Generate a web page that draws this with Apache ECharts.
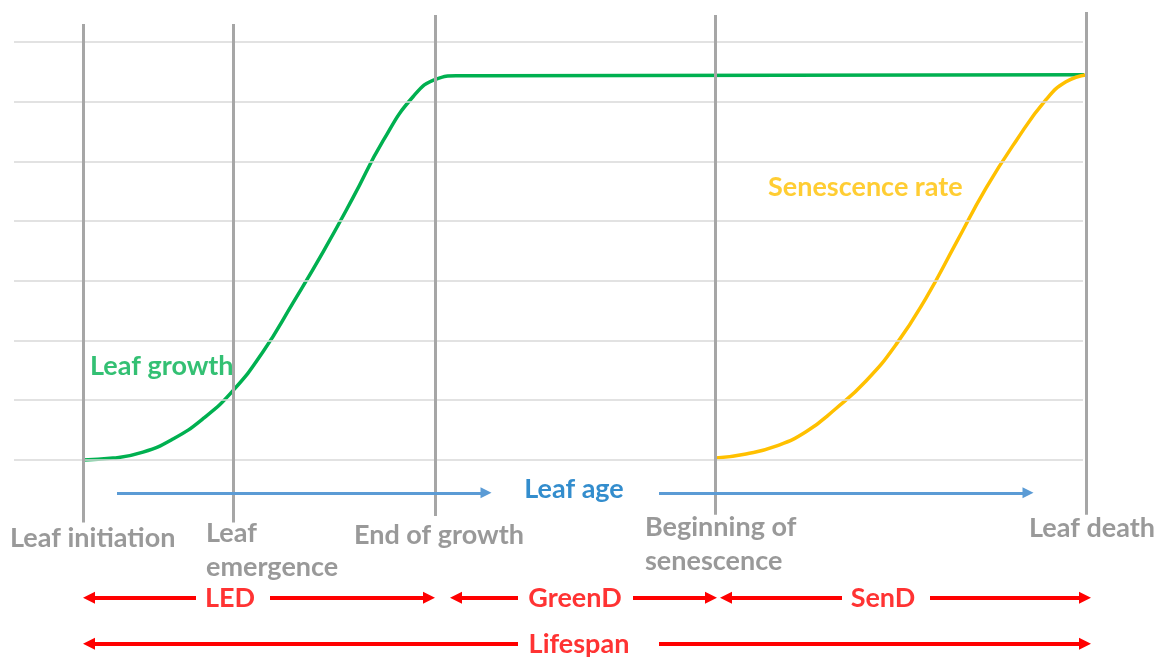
<!DOCTYPE html>
<html>
<head>
<meta charset="utf-8">
<script src="https://cdn.jsdelivr.net/npm/echarts@6/dist/echarts.min.js"></script>
<style>
  html, body { margin: 0; padding: 0; background: #fff; }
  #main { width: 1161px; height: 657px; }
</style>
</head>
<body>
<div id="main"></div>
<script>
// leaf growth curve (relative size vs leaf age)
var growthX = [8.3, 11.3, 14.3, 17.3, 20.3, 23.3, 26.3, 29.3, 32.3, 35.3, 38.3, 41.3, 43.7, 45.6, 48.5, 108.4];
var growthY = [0.00, 0.03, 0.13, 0.35, 0.69, 1.16, 1.81, 2.63, 3.48, 4.39, 5.34, 6.08, 6.38, 6.43, 6.43, 6.45];
// senescence curve
var senX = [71.6, 74.6, 77.6, 80.6, 83.6, 86.6, 89.6, 92.6, 95.6, 98.6, 101.6, 104.6, 106.6, 108.7];
var senY = [0.03, 0.10, 0.23, 0.47, 0.86, 1.32, 1.93, 2.71, 3.63, 4.55, 5.34, 6.03, 6.33, 6.45];
// stages
var stageX = [8.33, 23.33, 43.57, 71.5, 108.67];
var stageNames = ['Leaf initiation', 'Leaf\nemergence', 'End of growth', 'Beginning of\nsenescence', 'Leaf death'];
var gridLevels = [0, 1, 2, 3, 4, 5, 6, 7];
var phaseNames = ['LED', 'GreenD', 'SenD', 'Lifespan'];

var GRAY = '#7f7f7f', RED = '#ff0000';
var FONT = 'Lato';

function pairs(xs, ys) {
    return xs.map(function (x, i) { return [x, ys[i]]; });
}

// layout (data units, x = px/10)
var stageTop = [7.30, 7.30, 7.45, 7.45, 7.50];
var stageBottom = [-1.05, -1.05, -0.94, -0.92, -0.92];
var stageLabelPos = [[1.0, -1.31], [20.6, -1.52], [35.4, -1.26], [64.5, -1.41], [102.9, -1.14]];
// [x1, leftEnd, rightStart, x2, labelX, y]
var phaseRows = [
    [8.9, 19.6, 27.0, 42.9, 23.0, -2.31],
    [45.6, 51.8, 63.3, 71.1, 57.5, -2.31],
    [72.6, 84.2, 93.0, 108.5, 88.3, -2.31],
    [8.9, 51.8, 65.9, 108.5, 57.9, -3.08]
];

var gridLines = gridLevels.map(function (v) {
    return [{ coord: [1.4, v], symbol: 'none' }, { coord: [108.3, v], symbol: 'none' }];
});
var stageLines = stageX.map(function (x, i) {
    return [{ coord: [x, stageTop[i]], symbol: 'none' }, { coord: [x, stageBottom[i]], symbol: 'none' }];
});
var redLines = [];
phaseRows.forEach(function (r) {
    redLines.push([{ coord: [r[0], r[5]], symbol: 'triangle' }, { coord: [r[1], r[5]], symbol: 'none' }]);
    redLines.push([{ coord: [r[2], r[5]], symbol: 'none' }, { coord: [r[3], r[5]], symbol: 'triangle' }]);
});
var blueLines = [
    [{ coord: [11.7, -0.55], symbol: 'none' }, { coord: [48.6, -0.55], symbol: 'triangle' }],
    [{ coord: [65.9, -0.55], symbol: 'none' }, { coord: [102.8, -0.55], symbol: 'triangle' }]
];

function txt(name, x, y, color, align) {
    return {
        name: name, value: [x, y],
        label: { color: color, align: align || 'center' }
    };
}
var texts = [];
stageNames.forEach(function (n, i) {
    texts.push(txt(n, stageLabelPos[i][0], stageLabelPos[i][1], GRAY, 'left'));
});
phaseNames.forEach(function (n, i) {
    texts.push(txt(n, phaseRows[i][4], phaseRows[i][5], RED));
});
texts.push(txt('Leaf age', 57.4, -0.50, '#0070c0'));
texts.push(txt('Leaf growth', 9.0, 1.56, '#00b050', 'left'));
texts.push(txt('Senescence rate', 76.8, 4.57, '#ffc000', 'left'));

var myChart = echarts.init(document.getElementById('main'));
var option = {
    animation: false,
    grid: { left: 0, right: 0, top: 0, bottom: 0 },
    xAxis: { type: 'value', min: 0, max: 116.1, show: false },
    yAxis: { type: 'value', min: -3.3, max: 7.7, show: false },
    series: [
        {
            type: 'line', data: [], z: 1, silent: true,
            markLine: {
                silent: true, label: { show: false }, symbol: 'none',
                lineStyle: { color: '#d9d9d9', width: 1.5, type: 'solid' },
                emphasis: { disabled: true },
                data: gridLines
            }
        },
        {
            type: 'line', data: [], z: 2, silent: true,
            markLine: {
                silent: true, label: { show: false }, symbol: 'none',
                lineStyle: { color: '#a6a6a6', width: 3, type: 'solid' },
                emphasis: { disabled: true },
                data: stageLines
            }
        },
        {
            type: 'line', z: 3, smooth: 0.5, showSymbol: false, silent: true,
            lineStyle: { color: '#00b050', width: 3.5 },
            data: pairs(growthX, growthY)
        },
        {
            type: 'line', z: 3, smooth: 0.5, showSymbol: false, silent: true,
            lineStyle: { color: '#ffc000', width: 3.5 },
            data: pairs(senX, senY)
        },
        {
            type: 'line', data: [], z: 4, silent: true,
            markLine: {
                silent: true, label: { show: false }, symbolSize: [12, 12],
                lineStyle: { color: RED, width: 4, type: 'solid' },
                itemStyle: { color: RED },
                emphasis: { disabled: true },
                data: redLines
            }
        },
        {
            type: 'line', data: [], z: 4, silent: true,
            markLine: {
                silent: true, label: { show: false }, symbolSize: [11, 11],
                lineStyle: { color: '#5b9bd5', width: 3, type: 'solid' },
                itemStyle: { color: '#5b9bd5' },
                emphasis: { disabled: true },
                data: blueLines
            }
        },
        {
            type: 'scatter', z: 5, silent: true, symbolSize: 1,
            itemStyle: { color: 'rgba(0,0,0,0)' },
            label: {
                show: true, position: 'inside', formatter: '{b}',
                fontFamily: FONT, fontWeight: 'bold', fontSize: 27,
                lineHeight: 34, verticalAlign: 'middle'
            },
            data: texts
        }
    ]
};
myChart.setOption(option);
</script>
</body>
</html>
